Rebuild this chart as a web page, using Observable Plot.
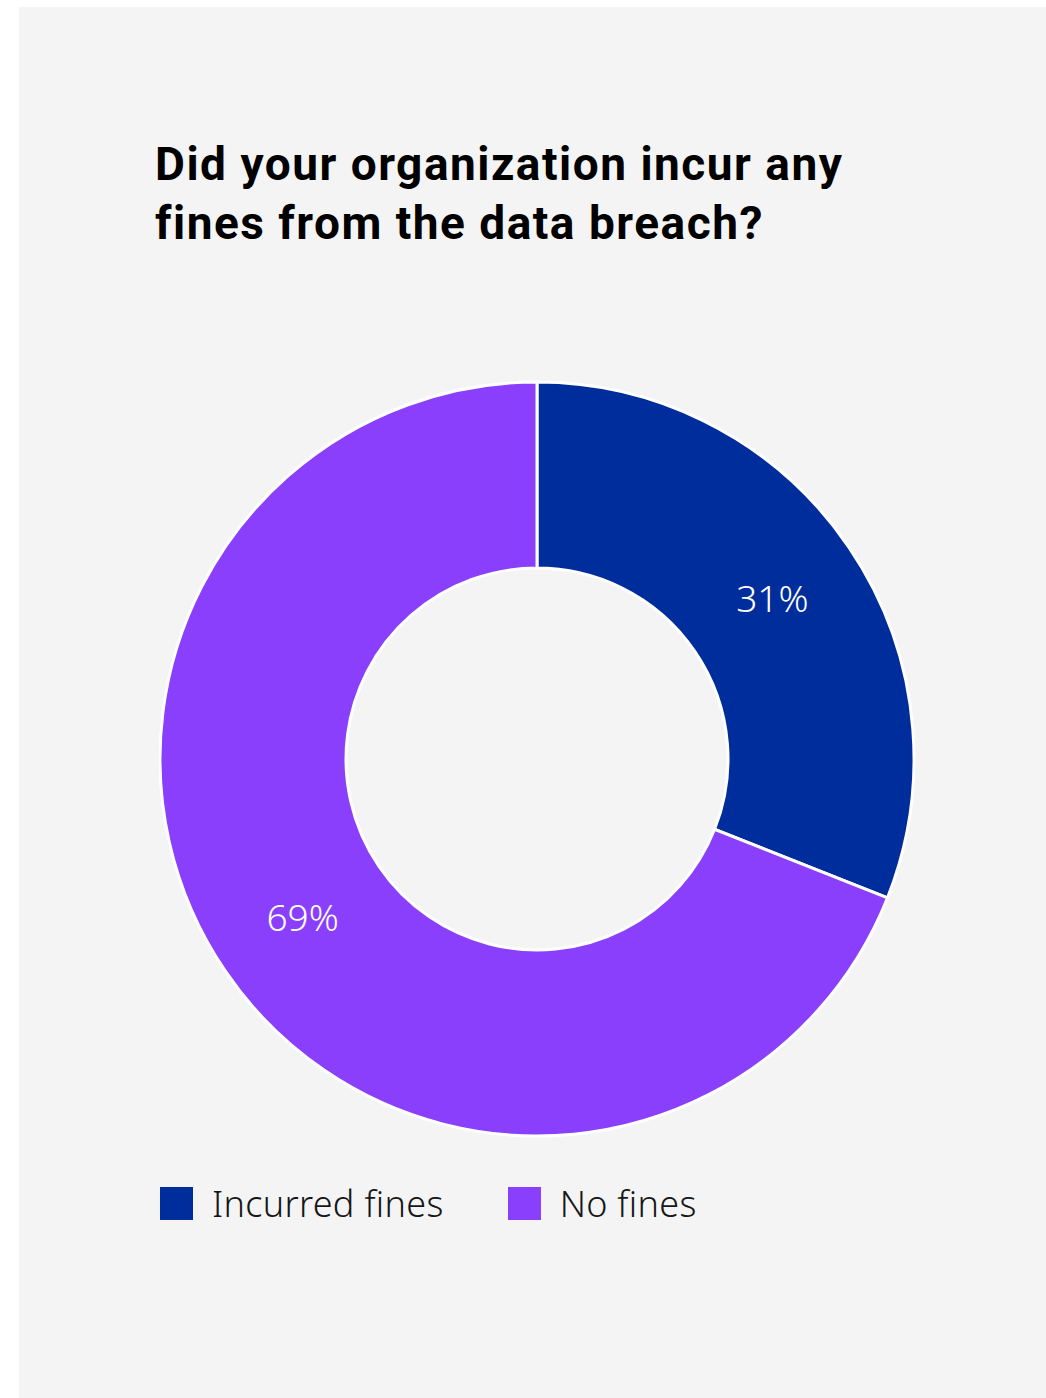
<!DOCTYPE html>
<html>
<head>
<meta charset="utf-8">
<script src="https://cdn.jsdelivr.net/npm/d3@7"></script>
<script src="https://cdn.jsdelivr.net/npm/@observablehq/plot@0.6"></script>
<style>
  html, body { margin: 0; padding: 0; background: #ffffff; }
  body { width: 1046px; height: 1398px; position: relative; overflow: hidden; }
  #panel { position: absolute; left: 19px; top: 7px; width: 1027px; height: 1391px; background: #f4f4f4; }
  #title { position: absolute; left: 136px; top: 128px; margin: 0; font-family: Roboto, "Noto Sans", sans-serif; font-weight: 700; font-size: 46px; line-height: 59px; color: #000; letter-spacing: 1.5px; }
  #chart { position: absolute; left: 0; top: 352px; }
  #legend { position: absolute; left: 141px; top: 1172px; display: flex; align-items: center; font-family: "Noto Sans", sans-serif; font-weight: 300; font-size: 36px; color: #161616; letter-spacing: 0.3px; }
  .item { display: flex; align-items: center; margin-right: 64px; }
  .sw { width: 33px; height: 33px; margin-right: 19px; }
</style>
</head>
<body>
<div id="panel">
  <h1 id="title">Did your organization incur any<br>fines from the data breach?</h1>
  <div id="chart"></div>
  <div id="legend"></div>
</div>
<script>
const categories = ["Incurred fines", "No fines"];
const values = [31, 69];
const labels = ["31%", "69%"];
const colors = ["#002d9c", "#8a3ffc"];

const data = categories.map((c, i) => ({category: c, value: values[i], label: labels[i]}));

const W = 1027, H = 800;
const outerR = 377, innerR = 191;
const pie = d3.pie().value(d => d.value).sort(null);
const arcs = pie(data);
const arcGen = d3.arc().innerRadius(innerR).outerRadius(outerR);
const labelPos = arcs.map(a => {
  const [cx, cy] = arcGen.centroid(a);
  return {label: a.data.label, x: cx, y: -cy};
});

const donut = (index, scales, values, dimensions, context) => {
  const g = d3.create("svg:g");
  const cx = scales.x(0), cy = scales.y(0);
  const color = scales.color;
  g.attr("transform", `translate(${cx},${cy})`);
  g.selectAll("path")
    .data(arcs)
    .join("path")
    .attr("d", arcGen)
    .attr("fill", d => color(d.data.category))
    .attr("stroke", "#ffffff")
    .attr("stroke-width", 3)
    .attr("stroke-linejoin", "miter");
  return g.node();
};

const chart = Plot.plot({
  width: W,
  height: H,
  margin: 0,
  style: {background: "transparent", overflow: "visible"},
  x: {domain: [-518, W - 518], axis: null},
  y: {domain: [-(H - 400), 400], axis: null},
  color: {domain: categories, range: colors},
  marks: [
    donut,
    Plot.text(labelPos, {
      x: "x", y: "y", text: "label",
      fill: "#ffffff",
      fontSize: 37,
      fontWeight: 300,
      fontFamily: "Noto Sans, sans-serif",
      letterSpacing: "1.5px"
    })
  ]
});
document.getElementById("chart").appendChild(chart);

const legend = d3.select("#legend");
categories.forEach((c, i) => {
  const item = legend.append("div").attr("class", "item");
  item.append("div").attr("class", "sw").style("background", colors[i]);
  item.append("span").text(c);
});
</script>
</body>
</html>
